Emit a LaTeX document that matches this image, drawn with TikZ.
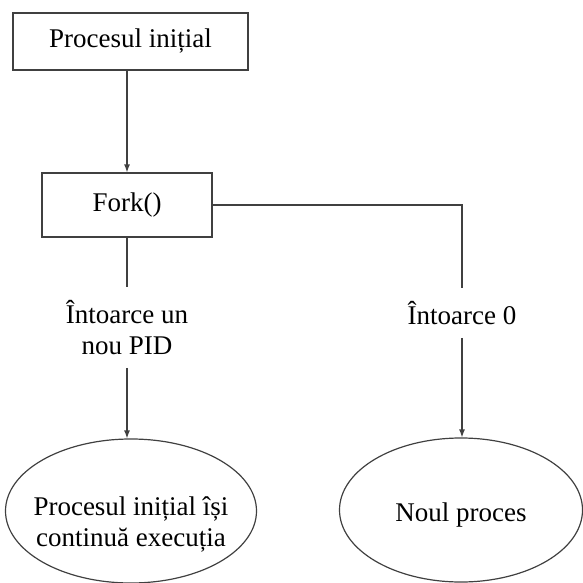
\documentclass[tikz,border=0pt]{standalone}
\usepackage{fontspec}
\setmainfont{Liberation Serif}
\usetikzlibrary{shapes.geometric,arrows.meta}
\tikzset{
  procbox/.style={draw=black!75,line width=1.2pt,rectangle,inner sep=0pt},
  procell/.style={draw=black!75,line width=1.2pt,ellipse,inner sep=0pt},
  retlabel/.style={inner sep=13pt,align=center},
  conn/.style={draw=black!75,line width=1.2pt}
}
% text in the ellipses, with no size of its own and moved down a little
\newcommand{\ellipsetext}[2]{\makebox[0pt]{\raisebox{-#1}[0pt][0pt]{\begin{tabular}{@{}c@{}}#2\end{tabular}}}}
\begin{document}
\begin{tikzpicture}[x=1pt,y=-1pt,>={Latex[length=8pt,width=6pt]},
  every node/.style={font=\fontsize{27}{31}\selectfont}]
\useasboundingbox (0,0) rectangle (582,583);
\node[procbox,minimum width=235pt,minimum height=57pt] (init) at (130.5,41.5) {Procesul inițial};
\node[procbox,minimum width=170pt,minimum height=64pt] (fork) at (127,205) {Fork()};
\node[retlabel,anchor=north] (retpid) at (127,287) {Întoarce un\\nou PID};
\node[retlabel,anchor=north] (retzero) at (462,288) {Întoarce 0};
\node[procell,minimum width=251pt,minimum height=144pt] (parent) at (131,511) {\ellipsetext{20pt}{Procesul inițial își\\continuă execuția}};
\node[procell,minimum width=243pt,minimum height=144pt] (child) at (461,510) {\ellipsetext{12pt}{Noul proces}};
% legaturi
\draw[conn,->] (init.south -| fork.north) -- (fork.north);
\draw[conn] (fork.south) -- (retpid.north);
\draw[conn,->] (retpid.south) -- (retpid.south |- parent.north);
\draw[conn] (fork.east) -| (retzero.north);
\draw[conn,->] (retzero.south) -- (retzero.south |- child.north);
\end{tikzpicture}
\end{document}
